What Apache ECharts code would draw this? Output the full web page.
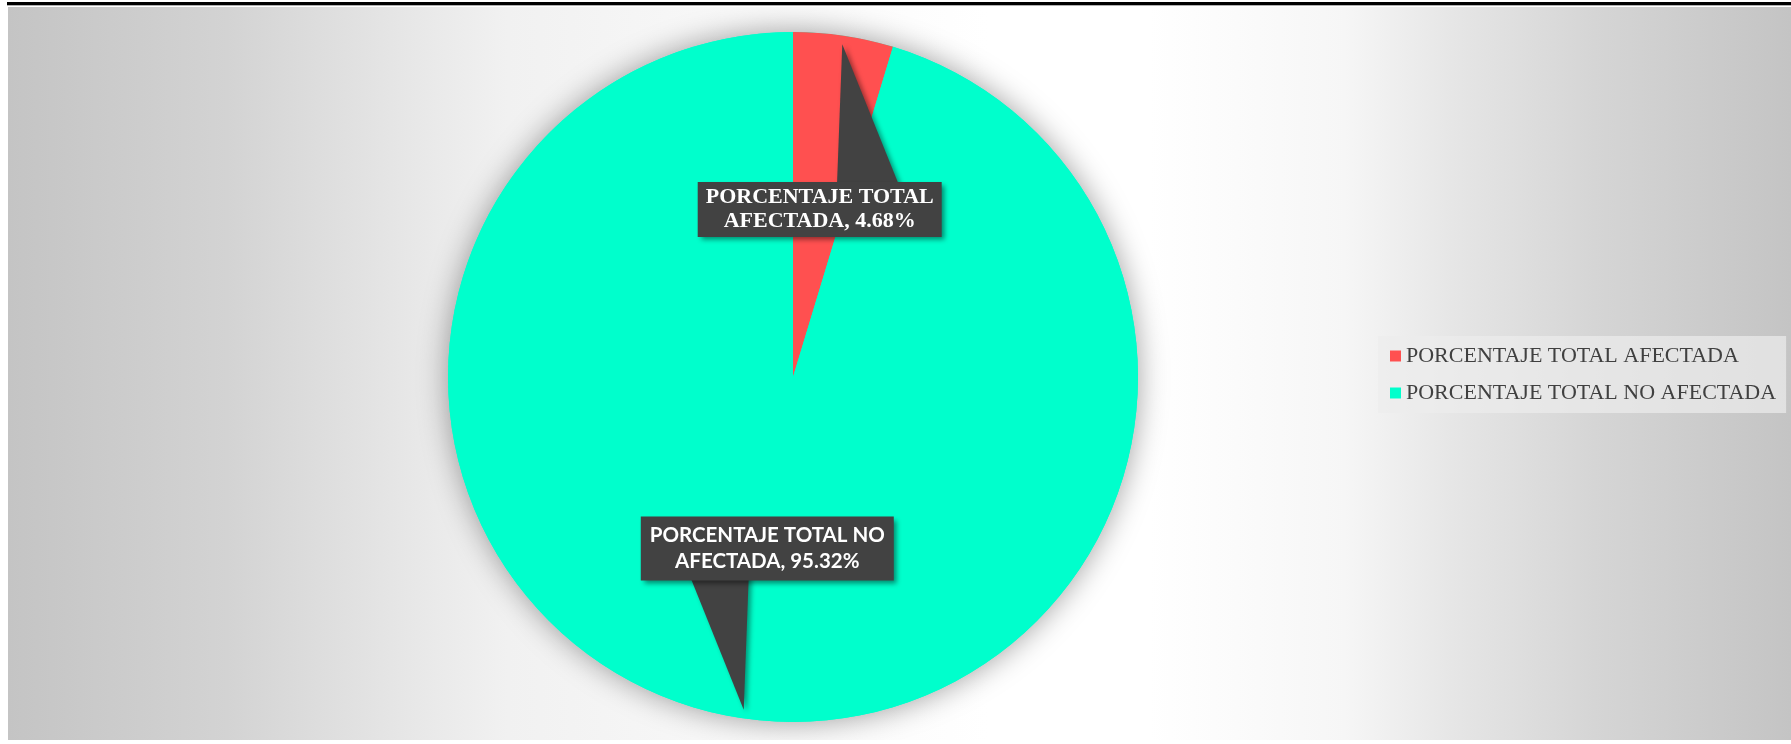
<!DOCTYPE html>
<html>
<head>
<meta charset="utf-8">
<script src="https://cdn.jsdelivr.net/npm/echarts@6/dist/echarts.min.js"></script>
<style>
  html, body { margin: 0; padding: 0; background: #ffffff; }
  body { width: 1791px; height: 744px; position: relative; overflow: hidden; }
  #topline { position: absolute; left: 7px; top: 2px; width: 1784px; height: 3px; background: #000; }
  #topline2 { position: absolute; left: 7px; top: 5px; width: 1784px; height: 1px; background: #b0b0b0; }
  #chart {
    position: absolute; left: 8px; top: 7px; width: 1783px; height: 733px;
    background: linear-gradient(90deg, #c4c4c4 0%, #d3d3d3 12.3%, #eaeaea 24%, #f1f1f1 28%, #fafafa 44%, #ffffff 55%, #ffffff 64%, #f6f6f6 75%, #e6e6e6 81%, #d5d5d5 89%, #c4c4c4 100%);
  }
</style>
</head>
<body>
<div id="topline"></div>
<div id="topline2"></div>
<div id="chart"></div>
<script>
// ---- data ----
const categories = ['PORCENTAJE TOTAL AFECTADA', 'PORCENTAJE TOTAL NO AFECTADA'];
const values = [4.68, 95.32];
const colors = ['#FF5050', '#00FFCC'];

// ---- styles ----
const labelFonts = [
  { fontFamily: '"Liberation Serif", "Times New Roman", serif', fontSize: 22, lineHeight: 24, padding: [4, 8, 3, 8], offset: [1, 6] },
  { fontFamily: 'Lato, "Open Sans", sans-serif', fontSize: 20.5, lineHeight: 26, padding: [6, 9, 6, 9], offset: [0, -2] }
];
const CENTER = [785, 370];
const RADIUS = 345;

const chart = echarts.init(document.getElementById('chart'), null, { renderer: 'canvas' });

function splitLabel(p) {
  const words = p.name.split(' ');
  const last = words.pop();
  return words.join(' ') + '\n' + last + ', ' + Number(p.value).toFixed(2) + '%';
}

const mainData = categories.map((c, i) => ({ name: c, value: values[i], itemStyle: { color: colors[i] } }));
const labelData = categories.map((c, i) => ({
  name: c, value: values[i],
  itemStyle: { color: 'rgba(0,0,0,0)' },
  label: Object.assign({}, labelFonts[i])
}));

chart.setOption({
  animation: false,
  backgroundColor: 'transparent',
  legend: {
    orient: 'vertical',
    left: 1370,
    top: 329,
    padding: [9, 10, 9, 12],
    backgroundColor: 'rgba(236,236,236,0.7)',
    itemWidth: 11,
    itemHeight: 11,
    itemGap: 15,
    selectedMode: false,
    icon: 'rect',
    data: categories.map((c, i) => ({ name: c, itemStyle: { color: colors[i] } })),
    textStyle: { fontFamily: '"Liberation Serif", "Times New Roman", serif', fontSize: 22, color: '#404040' }
  },
  series: [
    {
      // soft shadow halo behind the pie
      type: 'pie', z: 1, silent: true, center: CENTER, radius: RADIUS,
      label: { show: false }, labelLine: { show: false },
      data: [{ name: '__halo', value: 1, itemStyle: { color: colors[1], shadowBlur: 30, shadowColor: 'rgba(0,0,0,0.38)' } }],
      emphasis: { disabled: true }
    },
    {
      type: 'pie', z: 2, silent: true, center: CENTER, radius: RADIUS,
      startAngle: 90, clockwise: true,
      label: { show: false }, labelLine: { show: false },
      emphasis: { disabled: true },
      data: mainData
    },
    {
      type: 'pie', z: 5, silent: true, center: CENTER, radius: RADIUS,
      startAngle: 90, clockwise: true,
      avoidLabelOverlap: false,
      labelLine: { show: false },
      emphasis: { disabled: true },
      label: {
        show: true, position: 'inside', color: '#ffffff', fontWeight: 'bold',
        backgroundColor: '#424242', align: 'center',
        shadowColor: 'rgba(0,0,0,0.45)', shadowBlur: 5, shadowOffsetX: 3, shadowOffsetY: 3,
        formatter: splitLabel
      },
      data: labelData
    }
  ]
});

// ---- callout pointers, from the library's pie layout ----
const pieData = chart.getModel().getSeriesByIndex(1).getData();
const pointers = [];
for (let i = 0; i < pieData.count(); i++) {
  const lay = pieData.getItemLayout(i);
  const mid = (lay.startAngle + lay.endAngle) / 2;
  const dx = Math.cos(mid), dy = Math.sin(mid);
  const px = -dy, py = dx;
  const lx = lay.cx + dx * (lay.r + lay.r0) / 2;
  const ly = lay.cy + dy * (lay.r + lay.r0) / 2;
  const tip = [lay.cx + dx * lay.r * 0.975, lay.cy + dy * lay.r * 0.975];
  const b1 = [lx + px * 18, ly + py * 18];
  const b2 = [lx + px * 96, ly + py * 96];
  pointers.push({
    type: 'polygon', z: 3, silent: true,
    shape: { points: [tip, b1, b2] },
    style: { fill: '#424242', shadowBlur: 5, shadowColor: 'rgba(0,0,0,0.4)', shadowOffsetX: 3, shadowOffsetY: 2 }
  });
}
chart.setOption({ graphic: pointers });
</script>
</body>
</html>
